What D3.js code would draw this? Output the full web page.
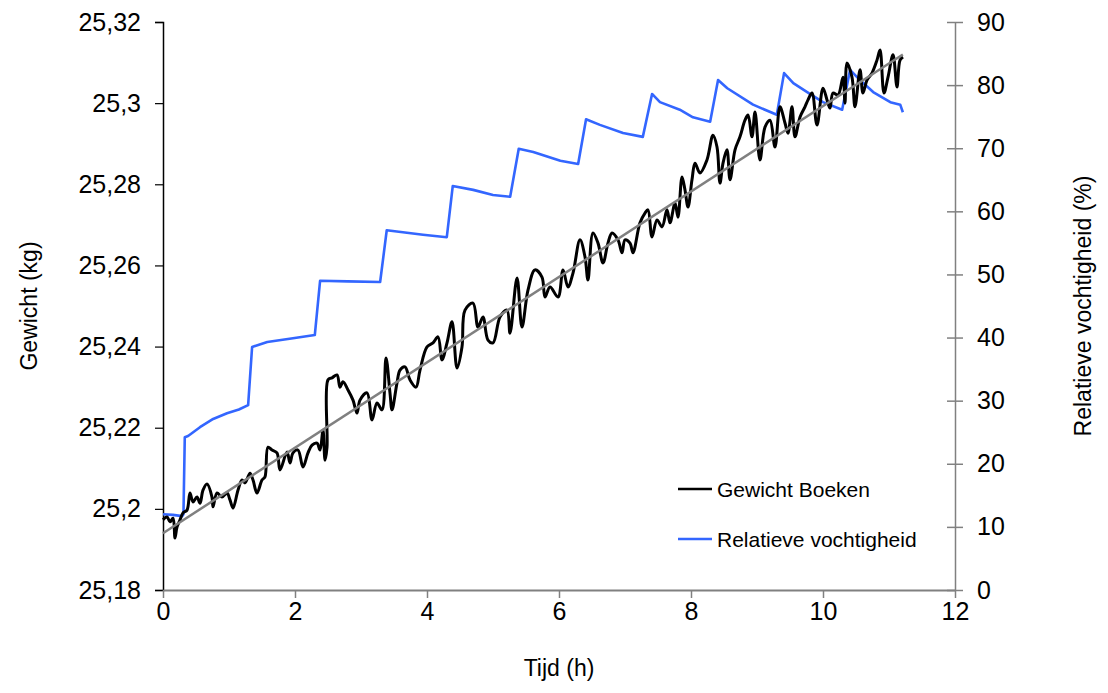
<!DOCTYPE html>
<html>
<head>
<meta charset="utf-8">
<script src="https://cdn.jsdelivr.net/npm/d3@7"></script>
<style>
  body { margin: 0; background: #fff; }
  svg text { font-family: "Liberation Sans", Arial, sans-serif; fill: #000; }
</style>
</head>
<body>
<div id="content"></div>
<script>
// tick values
let xTicks = [0, 2, 4, 6, 8, 10, 12];
let weightTicks = [25.18, 25.2, 25.22, 25.24, 25.26, 25.28, 25.3, 25.32];
let rhTicks = [0, 10, 20, 30, 40, 50, 60, 70, 80, 90];

// Gewicht Boeken (kg) over Tijd (h)
let weightTime = [0.000, 0.061, 0.106, 0.152, 0.182, 0.212, 0.258, 0.303, 0.364, 0.409, 0.455, 0.515, 0.561, 0.606, 0.667, 0.742, 0.758, 0.818, 0.894, 0.970,
  1.015, 1.061, 1.136, 1.197, 1.242, 1.318, 1.364, 1.424, 1.500, 1.545, 1.591, 1.652, 1.727, 1.773, 1.879, 1.924, 1.970, 2.045, 2.121, 2.197,
  2.258, 2.333, 2.379, 2.424, 2.455, 2.485, 2.500, 2.561, 2.636, 2.682, 2.727, 2.803, 2.879, 2.939, 2.985, 3.091, 3.167, 3.242, 3.318, 3.379,
  3.439, 3.470, 3.545, 3.591, 3.667, 3.742, 3.833, 3.894, 4.000, 4.091, 4.167, 4.227, 4.303, 4.379, 4.455, 4.530, 4.576, 4.697, 4.773, 4.848,
  4.924, 5.000, 5.106, 5.212, 5.258, 5.364, 5.439, 5.530, 5.636, 5.742, 5.788, 5.864, 5.985, 6.061, 6.136, 6.212, 6.318, 6.394, 6.439, 6.515,
  6.591, 6.667, 6.742, 6.803, 6.894, 6.955, 7.000, 7.076, 7.121, 7.227, 7.303, 7.348, 7.409, 7.485, 7.561, 7.636, 7.682, 7.758, 7.803, 7.864,
  7.909, 7.955, 8.015, 8.061, 8.136, 8.242, 8.333, 8.394, 8.439, 8.485, 8.545, 8.591, 8.667, 8.742, 8.818, 8.864, 8.924, 8.970, 9.045, 9.121,
  9.197, 9.273, 9.348, 9.424, 9.470, 9.530, 9.576, 9.652, 9.727, 9.773, 9.833, 9.909, 10.000, 10.061, 10.106, 10.152, 10.227, 10.303, 10.333, 10.364,
  10.439, 10.485, 10.561, 10.606, 10.667, 10.742, 10.818, 10.864, 10.924, 10.985, 11.061, 11.121, 11.167, 11.212];
let weightKg = [25.1973, 25.1980, 25.1968, 25.1977, 25.1928, 25.1955, 25.1973, 25.1990, 25.1997, 25.2039, 25.2017, 25.2029, 25.2014, 25.2046, 25.2061, 25.2029, 25.2005, 25.2039, 25.2029, 25.2039,
  25.2022, 25.2002, 25.2046, 25.2071, 25.2064, 25.2088, 25.2071, 25.2039, 25.2071, 25.2079, 25.2152, 25.2145, 25.2138, 25.2096, 25.2140, 25.2113, 25.2138, 25.2145, 25.2103, 25.2138,
  25.2157, 25.2162, 25.2145, 25.2194, 25.2120, 25.2152, 25.2318, 25.2323, 25.2330, 25.2300, 25.2313, 25.2293, 25.2268, 25.2236, 25.2268, 25.2286, 25.2219, 25.2261, 25.2244, 25.2372,
  25.2286, 25.2244, 25.2310, 25.2342, 25.2350, 25.2318, 25.2300, 25.2342, 25.2399, 25.2409, 25.2424, 25.2367, 25.2409, 25.2461, 25.2347, 25.2399, 25.2490, 25.2507, 25.2448, 25.2473,
  25.2416, 25.2409, 25.2473, 25.2490, 25.2433, 25.2569, 25.2448, 25.2539, 25.2589, 25.2571, 25.2522, 25.2547, 25.2522, 25.2589, 25.2547, 25.2581, 25.2663, 25.2621, 25.2564, 25.2680,
  25.2655, 25.2606, 25.2655, 25.2680, 25.2663, 25.2631, 25.2663, 25.2655, 25.2631, 25.2705, 25.2729, 25.2737, 25.2670, 25.2712, 25.2695, 25.2737, 25.2705, 25.2754, 25.2719, 25.2818,
  25.2786, 25.2744, 25.2811, 25.2852, 25.2828, 25.2860, 25.2921, 25.2892, 25.2803, 25.2852, 25.2885, 25.2811, 25.2885, 25.2917, 25.2958, 25.2971, 25.2917, 25.2978, 25.2860, 25.2941,
  25.2958, 25.2892, 25.2991, 25.2951, 25.2926, 25.2991, 25.2917, 25.2966, 25.2991, 25.3008, 25.3025, 25.2946, 25.3037, 25.3008, 25.2988, 25.3025, 25.3020, 25.3064, 25.3000, 25.3099,
  25.3064, 25.2991, 25.3082, 25.3025, 25.3057, 25.3074, 25.3106, 25.3131, 25.3025, 25.3064, 25.3119, 25.3040, 25.3106, 25.3114];

// Relatieve vochtigheid (%) over Tijd (h)
let rhTime = [0, 0.15, 0.29, 0.31, 0.33, 0.38, 0.56, 0.76, 0.97, 1.15, 1.29, 1.35, 1.58, 1.97, 2.30, 2.38, 2.80, 3.29, 3.39, 3.94,
  4.30, 4.39, 4.70, 5.00, 5.26, 5.39, 5.61, 6.02, 6.29, 6.41, 6.62, 6.97, 7.27, 7.41, 7.53, 7.83, 8.03, 8.29, 8.41, 8.55,
  8.94, 9.30, 9.41, 9.55, 9.76, 10.00, 10.29, 10.41, 10.56, 10.76, 11.02, 11.17, 11.21];
let rhValue = [12.0, 11.9, 11.7, 12.0, 24.2, 24.4, 25.8, 27.1, 28.0, 28.6, 29.3, 38.5, 39.3, 39.9, 40.4, 49.0, 48.9, 48.8, 57.0, 56.3,
  55.9, 64.0, 63.4, 62.6, 62.3, 69.9, 69.4, 68.0, 67.5, 74.6, 73.7, 72.4, 71.8, 78.6, 77.3, 76.1, 74.9, 74.2, 80.8, 79.5,
  76.9, 75.3, 81.9, 80.3, 78.9, 77.3, 76.1, 82.4, 80.8, 78.9, 77.3, 76.9, 75.7];

// linear trend of weight
let trendTime = [0, 11.21];
let trendKg = [25.194, 25.312];

let seriesNames = ["Gewicht Boeken", "Relatieve vochtigheid"];
let seriesColors = ["#000000", "#3366ff"];

let width = 1108,
    height = 693;
let margin = { left: 163, right: 153, top: 22, bottom: 103 };

let svg = d3.select("#content")
    .append("svg")
    .attr("width", width)
    .attr("height", height);

let x = d3.scaleLinear().domain([0, 12]).range([margin.left, width - margin.right]);
let yW = d3.scaleLinear().domain([25.18, 25.32]).range([height - margin.bottom, margin.top]);
let yRH = d3.scaleLinear().domain([0, 90]).range([height - margin.bottom, margin.top]);

let nl = d3.formatLocale({ decimal: ",", thousands: ".", grouping: [3], currency: ["€", ""] });
let fmt = nl.format("~f");

// left axis
let gLeft = svg.append("g")
    .attr("transform", "translate(" + margin.left + ",0)")
    .call(d3.axisLeft(yW).tickValues(weightTicks).tickSize(8).tickPadding(14).tickFormat(fmt));
gLeft.select(".domain").attr("stroke", "#000").attr("stroke-width", 1.5);
gLeft.selectAll(".tick line").attr("stroke", "#000").attr("stroke-width", 1.2);
gLeft.selectAll("text").style("font-size", "25px");

// bottom axis
let gBottom = svg.append("g")
    .attr("transform", "translate(0," + (height - margin.bottom) + ")")
    .call(d3.axisBottom(x).tickValues(xTicks).tickSize(8).tickSizeOuter(0).tickPadding(4));
gBottom.select(".domain").attr("stroke", "#808080").attr("stroke-width", 2);
gBottom.selectAll(".tick line").attr("stroke", "#808080").attr("stroke-width", 1.5);
gBottom.selectAll("text").style("font-size", "25px");

// right axis (ticks cross the axis)
let gRight = svg.append("g")
    .attr("transform", "translate(" + (width - margin.right) + ",0)")
    .call(d3.axisRight(yRH).tickValues(rhTicks).tickSize(8).tickSizeOuter(0).tickPadding(14));
gRight.select(".domain").attr("stroke", "#808080").attr("stroke-width", 1.5);
gRight.selectAll(".tick line").attr("x1", -8).attr("stroke", "#808080").attr("stroke-width", 1.5);
gRight.selectAll("text").style("font-size", "25px");

// axis titles
svg.append("text")
    .attr("transform", "translate(37," + ((margin.top + height - margin.bottom) / 2) + ") rotate(-90)")
    .attr("text-anchor", "middle")
    .style("font-size", "23px")
    .text("Gewicht (kg)");

svg.append("text")
    .attr("transform", "translate(1091," + ((margin.top + height - margin.bottom) / 2) + ") rotate(-90)")
    .attr("text-anchor", "middle")
    .style("font-size", "23px")
    .text("Relatieve vochtigheid (%)");

svg.append("text")
    .attr("x", (margin.left + width - margin.right) / 2)
    .attr("y", 676)
    .attr("text-anchor", "middle")
    .style("font-size", "23px")
    .text("Tijd (h)");

// lines
let weightData = weightTime.map((t, i) => ({ t: t, v: weightKg[i] }));
let rhData = rhTime.map((t, i) => ({ t: t, v: rhValue[i] }));
let trendData = trendTime.map((t, i) => ({ t: t, v: trendKg[i] }));

let lineW = d3.line().x(d => x(d.t)).y(d => yW(d.v)).curve(d3.curveCatmullRom.alpha(0.5));
let lineTrend = d3.line().x(d => x(d.t)).y(d => yW(d.v));
let lineRH = d3.line().x(d => x(d.t)).y(d => yRH(d.v));

svg.append("path")
    .datum(rhData)
    .attr("fill", "none")
    .attr("stroke", seriesColors[1])
    .attr("stroke-width", 2.6)
    .attr("stroke-linejoin", "round")
    .attr("d", lineRH);

svg.append("path")
    .datum(weightData)
    .attr("fill", "none")
    .attr("stroke", seriesColors[0])
    .attr("stroke-width", 3)
    .attr("stroke-linejoin", "round")
    .attr("d", lineW);

svg.append("path")
    .datum(trendData)
    .attr("fill", "none")
    .attr("stroke", "#808080")
    .attr("stroke-width", 2.5)
    .attr("d", lineTrend);

// legend
let legend = svg.append("g").attr("transform", "translate(678,489)");
seriesNames.forEach((name, i) => {
    legend.append("line")
        .attr("x1", 0).attr("x2", 34)
        .attr("y1", i * 50).attr("y2", i * 50)
        .attr("stroke", seriesColors[i])
        .attr("stroke-width", 2.5);
    legend.append("text")
        .attr("x", 39)
        .attr("y", i * 50 + 8)
        .style("font-size", "21px")
        .text(name);
});
</script>
</body>
</html>
